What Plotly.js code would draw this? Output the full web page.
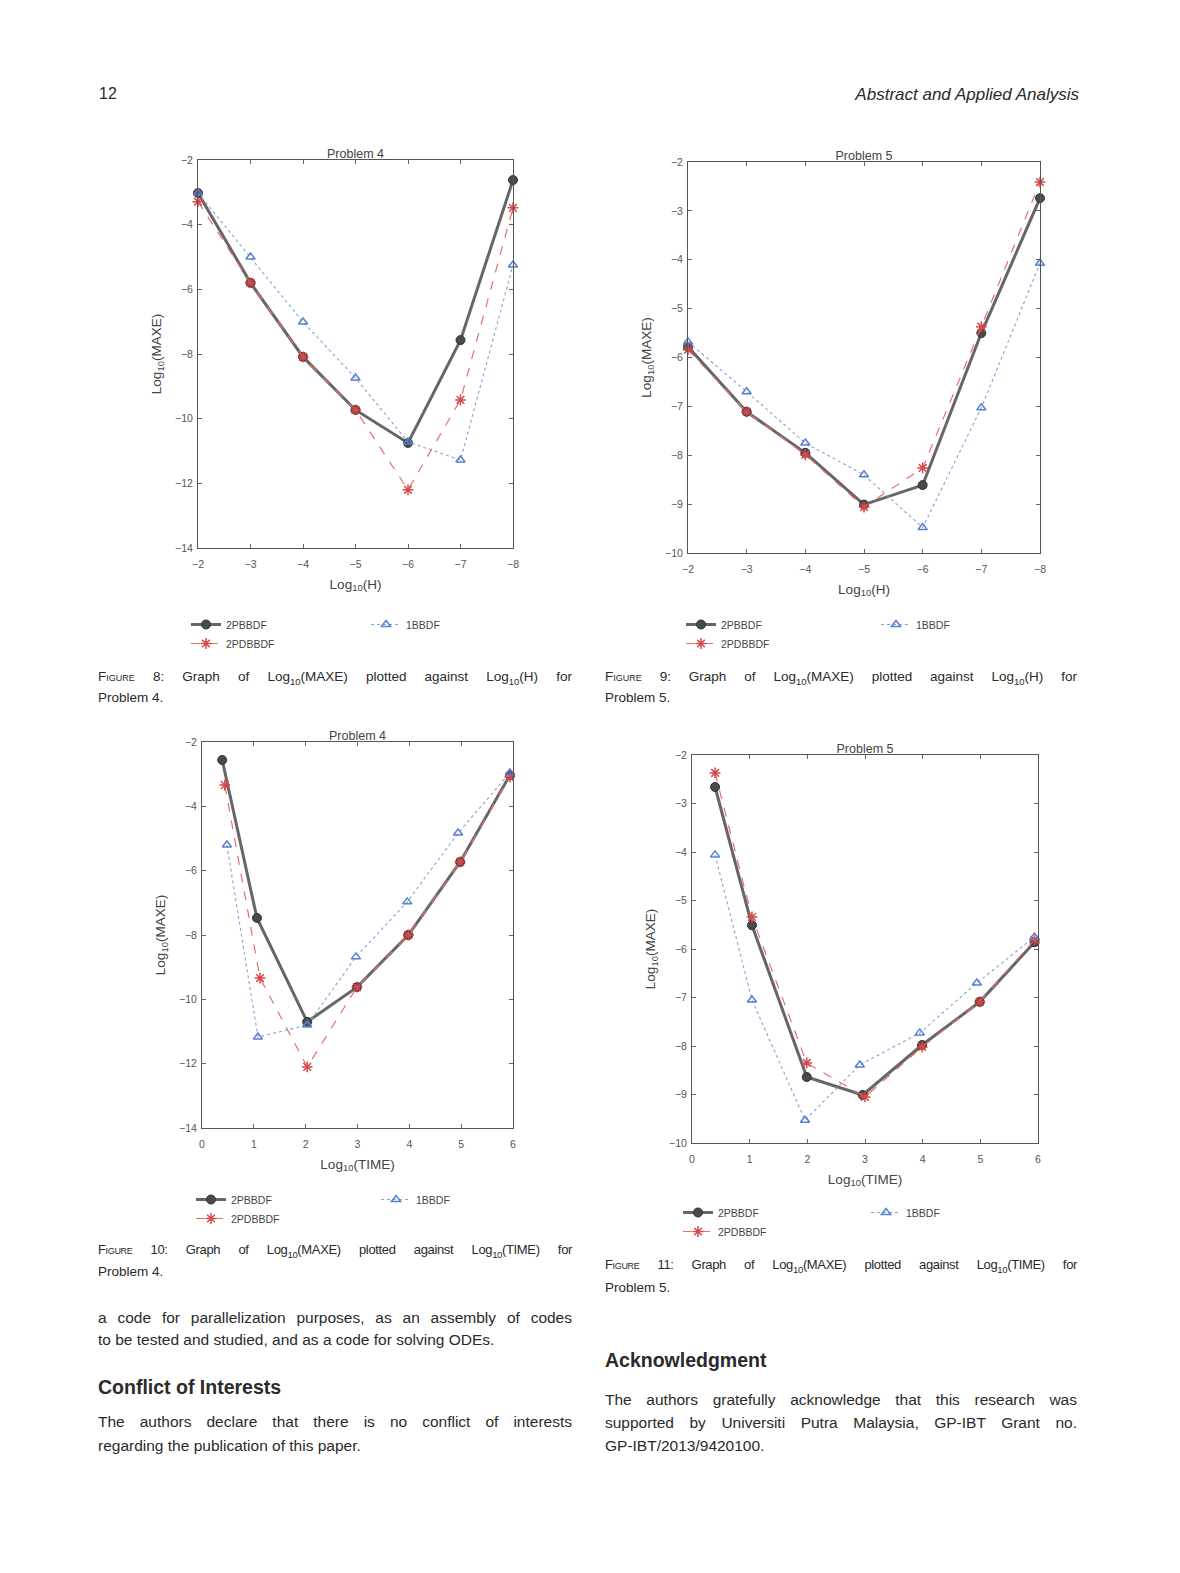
<!DOCTYPE html>
<html><head><meta charset="utf-8">
<script src="https://cdn.plot.ly/plotly-3.0.1.min.js"></script>
<style>
body{margin:0;background:#fff;width:1180px;height:1573px;position:relative;overflow:hidden;font-family:"Liberation Sans",Arial,sans-serif;color:#2a2a2a}
.t{position:absolute;white-space:nowrap}
.ln{position:absolute;text-align:justify;text-align-last:justify}
.ll{position:absolute;text-align:left;white-space:nowrap}
.cap{font-size:13.5px;line-height:17px}
.body{font-size:15.5px;line-height:18px}
.h{font-weight:bold;font-size:19.5px}
.sc{font-variant:small-caps}
sub{font-size:9.5px;line-height:0}
.plot{position:absolute}
</style></head><body>
<div class="t" style="left:99px;top:85px;font-size:16px">12</div>
<div class="t" style="right:101px;top:85px;font-size:17px;font-style:italic">Abstract and Applied Analysis</div>

<div id="p1" class="plot"></div>
<div id="p2" class="plot"></div>
<div id="p3" class="plot"></div>
<div id="p4" class="plot"></div>

<div class="ln cap" style="left:98px;top:668px;width:474px"><span class="sc">Figure</span> 8: Graph of Log<sub>10</sub>(MAXE) plotted against Log<sub>10</sub>(H) for</div>
<div class="ll cap" style="left:98px;top:689px">Problem 4.</div>
<div class="ln cap" style="left:605px;top:668px;width:472px"><span class="sc">Figure</span> 9: Graph of Log<sub>10</sub>(MAXE) plotted against Log<sub>10</sub>(H) for</div>
<div class="ll cap" style="left:605px;top:689px">Problem 5.</div>

<div class="ln cap" style="left:98px;top:1241px;width:474px;letter-spacing:-0.35px;font-size:13px"><span class="sc">Figure</span> 10: Graph of Log<sub>10</sub>(MAXE) plotted against Log<sub>10</sub>(TIME) for</div>
<div class="ll cap" style="left:98px;top:1263px">Problem 4.</div>
<div class="ln cap" style="left:605px;top:1256px;width:472px;letter-spacing:-0.35px;font-size:13px"><span class="sc">Figure</span> 11: Graph of Log<sub>10</sub>(MAXE) plotted against Log<sub>10</sub>(TIME) for</div>
<div class="ll cap" style="left:605px;top:1279px">Problem 5.</div>

<div class="ln body" style="left:98px;top:1309px;width:474px">a code for parallelization purposes, as an assembly of codes</div>
<div class="ll body" style="left:98px;top:1331px">to be tested and studied, and as a code for solving ODEs.</div>
<div class="t h" style="left:98px;top:1376px">Conflict of Interests</div>
<div class="ln body" style="left:98px;top:1413px;width:474px">The authors declare that there is no conflict of interests</div>
<div class="ll body" style="left:98px;top:1437px">regarding the publication of this paper.</div>

<div class="t h" style="left:605px;top:1349px">Acknowledgment</div>
<div class="ln body" style="left:605px;top:1391px;width:472px">The authors gratefully acknowledge that this research was</div>
<div class="ln body" style="left:605px;top:1414px;width:472px">supported by Universiti Putra Malaysia, GP-IBT Grant no.</div>
<div class="ll body" style="left:605px;top:1437px">GP-IBT/2013/9420100.</div>

<script>
// ---- data ----
const seriesNames = ['2PBBDF', '2PDBBDF', '1BBDF'];
const plotTitles = ['Problem 4', 'Problem 5', 'Problem 4', 'Problem 5'];

// Figure 8: Problem 4, Log10(MAXE) vs Log10(H)
const p4H_x = [-2, -3, -4, -5, -6, -7, -8];
const p4H_s1 = [-3.02, -5.80, -8.09, -9.73, -10.75, -7.57, -2.62];
const p4H_s2 = [-3.29, -5.80, -8.09, -9.73, -12.20, -9.42, -3.48];
const p4H_s3 = [-3.02, -5.00, -7.01, -8.74, -10.72, -11.28, -5.25];

// Figure 9: Problem 5, Log10(MAXE) vs Log10(H)
const p5H_x = [-2, -3, -4, -5, -6, -7, -8];
const p5H_s1 = [-5.78, -7.11, -7.95, -9.01, -8.61, -5.50, -2.74];
const p5H_s2 = [-5.84, -7.11, -7.99, -9.06, -8.26, -5.37, -2.41];
const p5H_s3 = [-5.68, -6.70, -7.75, -8.40, -9.48, -7.03, -4.07];

// Figure 10: Problem 4, Log10(MAXE) vs Log10(TIME)
const p4T_x1 = [0.39, 1.06, 2.03, 2.99, 3.98, 4.98, 5.94];
const p4T_s1 = [-2.56, -7.47, -10.70, -9.62, -8.00, -5.73, -3.03];
const p4T_x2 = [0.44, 1.12, 2.03, 2.99, 3.98, 4.98, 5.94];
const p4T_s2 = [-3.34, -9.34, -12.10, -9.62, -8.00, -5.73, -3.09];
const p4T_x3 = [0.48, 1.08, 2.03, 2.97, 3.96, 4.94, 5.94];
const p4T_s3 = [-5.20, -11.17, -10.80, -8.68, -6.97, -4.83, -2.96];

// Figure 11: Problem 5, Log10(MAXE) vs Log10(TIME)
const p5T_x1 = [0.40, 1.04, 1.99, 2.96, 3.99, 4.99, 5.94];
const p5T_s1 = [-2.66, -5.51, -8.64, -9.01, -7.98, -7.09, -5.86];
const p5T_x2 = [0.40, 1.04, 1.99, 3.00, 3.99, 4.99, 5.94];
const p5T_s2 = [-2.37, -5.34, -8.35, -9.05, -8.02, -7.09, -5.81];
const p5T_x3 = [0.40, 1.04, 1.96, 2.91, 3.95, 4.94, 5.94];
const p5T_s3 = [-4.06, -7.05, -9.53, -8.39, -7.73, -6.70, -5.75];

// ---- styles ----
const styles = [
  {line:{color:'#666', width:3}, marker:{symbol:'circle', size:9, color:'#4a4a4a', line:{color:'#333', width:1}}},
  {line:{color:'#e27070', width:1.2, dash:'dash'}, marker:{symbol:'asterisk-open', size:9, color:'#d84848', line:{color:'#d84848', width:1.5}}},
  {line:{color:'#86a0d8', width:1.1, dash:'dot'}, marker:{symbol:'triangle-up-open', size:8, color:'#5b7fcf', line:{color:'#5b7fcf', width:1.5}}}
];

const ML = 100, MT = 40, MR = 30, MB = 180;
const FONT = 'Liberation Sans, Arial, sans-serif';

function makePlot(id, box, title, xs, ys, xcfg, ycfg, xtitle, leg) {
  const el = document.getElementById(id);
  const w = box.x1 - box.x0, h = box.y1 - box.y0;
  el.style.left = (box.x0 - ML) + 'px';
  el.style.top = (box.y0 - MT) + 'px';
  el.style.width = (w + ML + MR) + 'px';
  el.style.height = (h + MT + MB) + 'px';
  const traces = [0, 1, 2].map(i => Object.assign({
    type: 'scatter', mode: 'lines+markers', x: xs[i], y: ys[i], name: seriesNames[i],
    legend: i < 2 ? 'legend' : 'legend2', cliponaxis: false
  }, styles[i]));
  const axisBase = {
    showline: true, mirror: 'ticks', linecolor: '#555', linewidth: 1, automargin: false,
    ticks: 'inside', ticklen: 4, tickcolor: '#666', showgrid: false, zeroline: false,
    tickfont: {size: 10.5, color: '#555', family: FONT}
  };
  const legBase = {
    orientation: 'v', xref: 'paper', yref: 'paper', yanchor: 'top', xanchor: 'left',
    bgcolor: 'rgba(0,0,0,0)', borderwidth: 0, tracegroupgap: 0, itemwidth: 30,
    font: {size: 10.5, color: '#444', family: FONT}
  };
  const px2x = px => (px - box.x0) / w;
  const py2y = py => -(py - box.y1) / h;
  const layout = {
    width: w + ML + MR, height: h + MT + MB,
    margin: {l: ML, r: MR, t: MT, b: MB, pad: 0, autoexpand: false},
    paper_bgcolor: '#fff', plot_bgcolor: '#fff',
    title: {text: title, x: 0.5, xref: 'paper', xanchor: 'center', y: 1, yref: 'paper', yanchor: 'bottom',
            pad: {b: 2}, font: {size: 12.5, color: '#444', family: FONT}},
    xaxis: Object.assign({}, axisBase, xcfg, {ticklabelstandoff: 6, title: {text: xtitle, standoff: 10,
            font: {size: 13.5, color: '#444', family: FONT}}}),
    yaxis: Object.assign({}, axisBase, ycfg, {ticklabelstandoff: 2, title: {text: 'Log<sub>10</sub>(MAXE)', standoff: 10,
            font: {size: 13.5, color: '#444', family: FONT}}}),
    showlegend: true,
    legend: Object.assign({}, legBase, {x: px2x(leg.x1), y: py2y(leg.y)}),
    legend2: Object.assign({}, legBase, {x: px2x(leg.x2), y: py2y(leg.y)})
  };
  Plotly.newPlot(el, traces, layout, {displayModeBar: false, staticPlot: true});
}

makePlot('p1', {x0:198, x1:513, y0:160, y1:548}, plotTitles[0],
  [p4H_x, p4H_x, p4H_x], [p4H_s1, p4H_s2, p4H_s3],
  {range: [-2, -8], dtick: 1}, {range: [-14, -2], dtick: 2},
  'Log<sub>10</sub>(H)', {x1: 186, x2: 366, y: 610});

makePlot('p2', {x0:688, x1:1040, y0:162, y1:553}, plotTitles[1],
  [p5H_x, p5H_x, p5H_x], [p5H_s1, p5H_s2, p5H_s3],
  {range: [-2, -8], dtick: 1}, {range: [-10, -2], dtick: 1},
  'Log<sub>10</sub>(H)', {x1: 681, x2: 876, y: 610});

makePlot('p3', {x0:202, x1:513, y0:742, y1:1128}, plotTitles[2],
  [p4T_x1, p4T_x2, p4T_x3], [p4T_s1, p4T_s2, p4T_s3],
  {range: [0, 6], dtick: 1}, {range: [-14, -2], dtick: 2},
  'Log<sub>10</sub>(TIME)', {x1: 191, x2: 376, y: 1185});

makePlot('p4', {x0:692, x1:1038, y0:755, y1:1143}, plotTitles[3],
  [p5T_x1, p5T_x2, p5T_x3], [p5T_s1, p5T_s2, p5T_s3],
  {range: [0, 6], dtick: 1}, {range: [-10, -2], dtick: 1},
  'Log<sub>10</sub>(TIME)', {x1: 678, x2: 866, y: 1198});
</script>
</body></html>
